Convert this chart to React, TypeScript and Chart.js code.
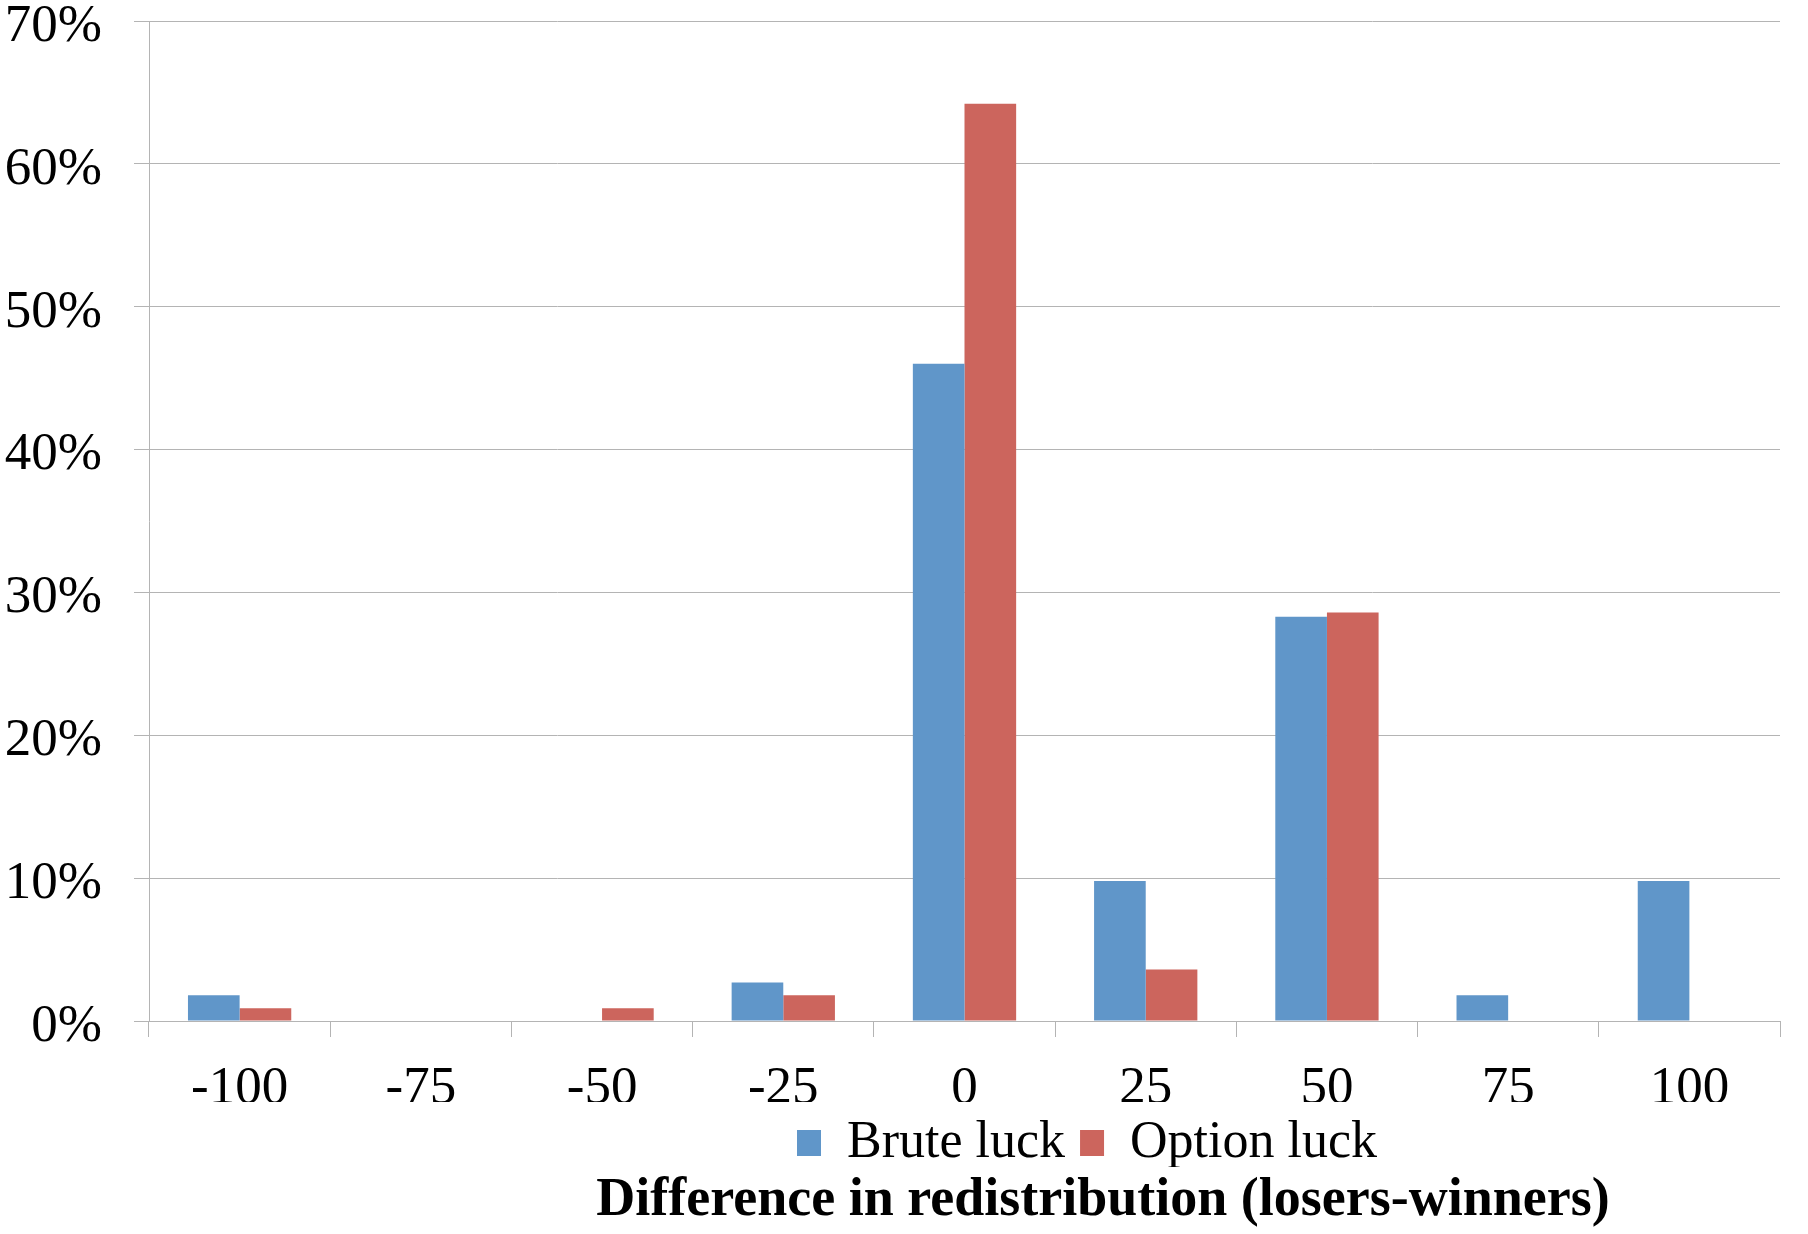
import { useEffect, useRef } from "react";
import { Chart, registerables } from "chart.js";

Chart.register(...registerables);

const categories = ["-100", "-75", "-50", "-25", "0", "25", "50", "75", "100"];
const bruteLuck = [1.8, 0, 0, 2.7, 46.0, 9.8, 28.3, 1.8, 9.8];
const optionLuck = [0.9, 0, 0.9, 1.8, 64.2, 3.6, 28.6, 0, 0];
const yTicks = [0, 10, 20, 30, 40, 50, 60, 70];

const BLUE = "#6096C9";
const RED = "#CC655D";
const GRID = "#B4B4B4";
const FONT = "'Liberation Serif', 'Times New Roman', serif";

// legend and axis title sit right of centre in the original
const LEGEND_CENTER_X = 1087;
const TITLE_CENTER_X = 1103;

const nudgeBoxes = {
  id: "nudgeBoxes",
  afterLayout(chart: any) {
    const moves: [any, number][] = [
      [chart.legend, LEGEND_CENTER_X],
      [chart.titleBlock, TITLE_CENTER_X],
    ];
    for (const [box, cx] of moves) {
      if (!box) continue;
      const dx = cx - (box.left + box.right) / 2;
      box.left += dx;
      box.right += dx;
    }
  },
};

export default function App() {
  const chartRef = useRef<HTMLCanvasElement | null>(null);

  useEffect(() => {
    const canvas = chartRef.current;
    if (!canvas) return;

    const chart = new Chart(canvas, {
      type: "bar",
      data: {
        labels: categories,
        datasets: [
          {
            label: "Brute luck",
            data: bruteLuck,
            backgroundColor: BLUE,
            borderWidth: 0,
            barPercentage: 1,
            categoryPercentage: 0.57,
          },
          {
            label: "Option luck",
            data: optionLuck,
            backgroundColor: RED,
            borderWidth: 0,
            barPercentage: 1,
            categoryPercentage: 0.57,
          },
        ],
      },
      options: {
        responsive: false,
        animation: false,
        layout: {
          padding: { left: 0, right: 28, top: 21, bottom: 0 },
        },
        plugins: {
          tooltip: { enabled: false },
          legend: {
            position: "bottom",
            maxHeight: 65,
            labels: {
              boxWidth: 24,
              boxHeight: 26,
              padding: 15,
              color: "#000",
              font: { family: FONT, size: 52, lineHeight: 1 },
            },
          },
          title: {
            display: true,
            position: "bottom",
            text: "Difference in redistribution (losers-winners)",
            color: "#000",
            font: { family: FONT, size: 54, weight: "bold", lineHeight: 1 },
            padding: { top: 7, bottom: 6 },
          },
        },
        scales: {
          x: {
            afterFit: (scale: any) => {
              scale.height = 81;
              scale.paddingLeft = 0;
              scale.paddingRight = 0;
            },
            grid: {
              offset: true,
              drawOnChartArea: false,
              drawTicks: true,
              tickLength: 16,
              color: GRID,
            },
            border: { display: true, color: GRID },
            ticks: {
              color: "#000",
              padding: 39,
              font: { family: FONT, size: 53, lineHeight: 0.5 },
            },
          },
          y: {
            min: 0,
            max: 70,
            afterBuildTicks: (axis: any) => {
              axis.ticks = yTicks.map((v) => ({ value: v }));
            },
            afterFit: (scale: any) => {
              scale.width = 149;
              scale.paddingTop = 0;
              scale.paddingBottom = 0;
            },
            grid: { color: GRID, tickLength: 15 },
            border: { display: true, color: GRID },
            ticks: {
              color: "#000",
              padding: 32,
              labelOffset: 6,
              font: { family: FONT, size: 53, lineHeight: 0.8 },
              callback: (v: any) => v + "%",
            },
          },
        },
      },
      plugins: [nudgeBoxes],
    });

    return () => {
      chart.destroy();
    };
  }, []);

  return (
    <div style={{ position: "absolute", left: 0, top: 0, width: 1808, height: 1234, background: "#fff" }}>
      <canvas ref={chartRef} width={1808} height={1234} style={{ display: "block" }} />
    </div>
  );
}
